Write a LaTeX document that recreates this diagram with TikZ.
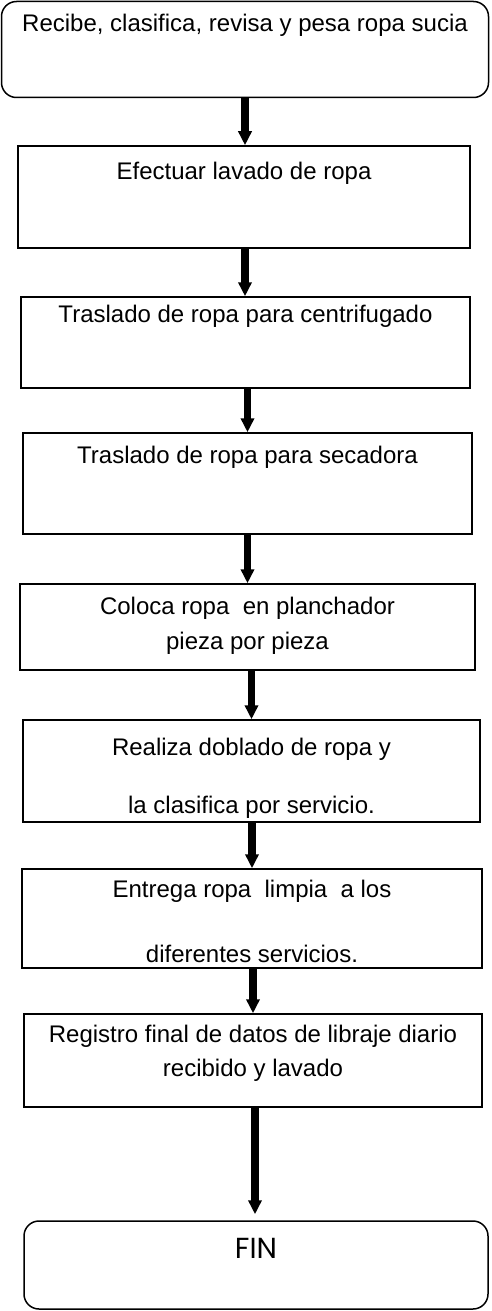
\documentclass[tikz,border=0pt]{standalone}
\usepackage{fontspec}
\setmainfont{Liberation Sans}
\newfontfamily\finfont{Poppins}
\usetikzlibrary{arrows.meta}
\tikzset{
  box/.style={draw=black, line width=1.5pt, inner sep=0pt, fill=white},
  rbox/.style={box, rounded corners=15pt},
  txt/.style={inner sep=0pt, anchor=base, font=\fontsize{24}{28}\selectfont},
  arr/.style={line width=7.5pt, -{Triangle[width=13pt,length=14pt]}}
}
\begin{document}
\begin{tikzpicture}[x=1pt,y=-1pt]
\useasboundingbox (0,0) rectangle (491,1311);
% boxes
\node[rbox, minimum width=487pt, minimum height=96pt] (b1) at (245,49.5) {};
\node[box, minimum width=452pt, minimum height=102pt] (b2) at (244,197) {};
\node[box, minimum width=449pt, minimum height=91pt] (b3) at (245.5,342.5) {};
\node[box, minimum width=449pt, minimum height=101pt] (b4) at (247.5,483.5) {};
\node[box, minimum width=455pt, minimum height=86pt] (b5) at (247.5,627) {};
\node[box, minimum width=457pt, minimum height=102pt] (b6) at (251.5,771) {};
\node[box, minimum width=460pt, minimum height=99pt] (b7) at (252,918.5) {};
\node[box, minimum width=458pt, minimum height=93pt] (b8) at (253,1060.5) {};
\node[rbox, minimum width=464pt, minimum height=88pt] (b9) at (256,1265) {};
% texts
\node[txt] (t1) at (b1.north |- 0,32) {Recibe, clasifica, revisa y pesa ropa sucia};
\node[txt] (t2) at (b2.north |- 0,179) {Efectuar lavado de ropa};
\node[txt] (t3) at (b3.north |- 0,322) {Traslado de ropa para centrifugado};
\node[txt] (t4) at (b4.north |- 0,463) {Traslado de ropa para secadora};
\node[txt] (t5a) at (b5.north |- 0,614) {Coloca ropa\ \ en planchador};
\node[txt] (t5b) at (b5.north |- 0,649) {pieza por pieza};
\node[txt] (t6a) at (b6.north |- 0,755) {Realiza doblado de ropa y};
\node[txt] (t6b) at (b6.north |- 0,813) {la clasifica por servicio.};
\node[txt] (t7a) at (b7.north |- 0,897) {Entrega ropa\ \ limpia\ \ a los};
\node[txt] (t7b) at (b7.north |- 0,962) {diferentes servicios.};
\node[txt] (t8a) at (b8.north |- 0,1042) {Registro final de datos de libraje diario};
\node[txt] (t8b) at (b8.north |- 0,1076) {recibido y lavado};
\node[inner sep=0pt, anchor=base, font=\finfont\fontsize{29}{34}\selectfont] (t9) at (b9.north |- 0,1258) {FIN};
% arrows
\draw[arr] (b1.south -| 245,0) -- (b2.north -| 245,0);
\draw[arr] (b2.south -| 245,0) -- (b3.north -| 245,0);
\draw[arr] (b4.north |- b3.south) -- (b4.north);
\draw[arr] (b5.north |- b4.south) -- (b5.north);
\draw[arr] (b6.north |- b5.south) -- (b6.north);
\draw[arr] (b7.north |- b6.south) -- (b7.north);
\draw[arr] (b8.north |- b7.south) -- (b8.north);
\draw[arr, shorten >=6pt] (b8.south -| 255,0) -- (b9.north -| 255,0);
\end{tikzpicture}
\end{document}
